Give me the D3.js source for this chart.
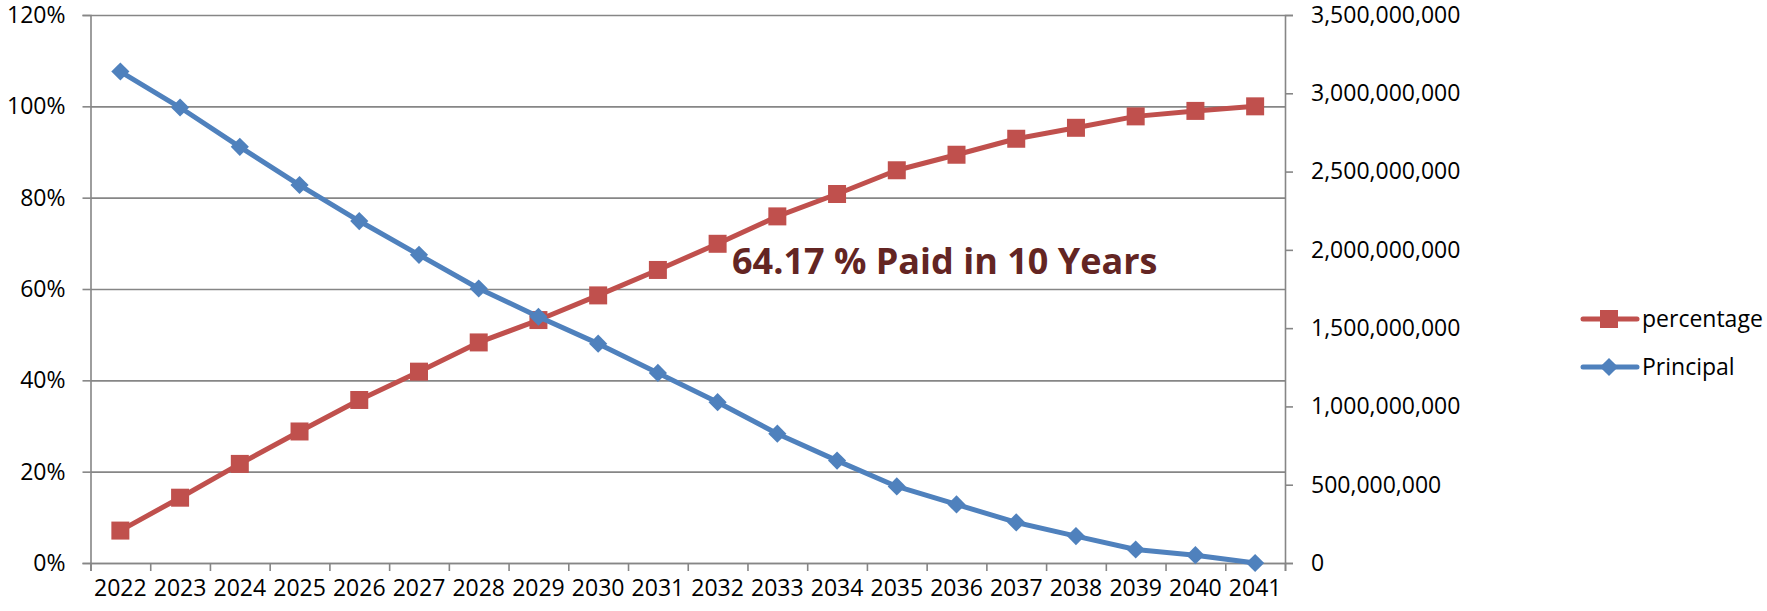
<!DOCTYPE html>
<html>
<head>
<meta charset="utf-8">
<script src="https://cdn.jsdelivr.net/npm/d3@7"></script>
<style>
  body { margin: 0; background: #fff; }
  svg { display: block; font-family: 'Open Sans', sans-serif; }
</style>
</head>
<body>
<svg></svg>
<script>
const years = ['2022', '2023', '2024', '2025', '2026', '2027', '2028', '2029', '2030', '2031',
  '2032', '2033', '2034', '2035', '2036', '2037', '2038', '2039', '2040', '2041'];

// paid share, left axis
const percentage = [0.071, 0.143, 0.217, 0.288, 0.357, 0.419, 0.483, 0.532, 0.586, 0.6417,
  0.699, 0.759, 0.808, 0.86, 0.894, 0.929, 0.953, 0.978, 0.99, 1.0];

// remaining principal, right axis
const principal = [3139e6, 2909e6, 2658e6, 2414e6, 2184e6, 1968e6, 1753e6, 1573e6, 1401e6, 1214e6,
  1027e6, 826e6, 654e6, 489e6, 374e6, 259e6, 172e6, 86e6, 50e6, 0];

const leftTicks = [0, 0.2, 0.4, 0.6, 0.8, 1.0, 1.2];
const rightTicks = [0, 5e8, 1e9, 1.5e9, 2e9, 2.5e9, 3e9, 3.5e9];

const seriesNames = ['percentage', 'Principal'];
const annotation = '64.17 % Paid in 10 Years';

const width = 1767;
const height = 611;
const plotLeft = 90.5;
const plotRight = 1285;
const plotTop = 15;
const plotBottom = 563;

const gridColor = '#868686';
const red = '#C0504D';
const blue = '#4F81BD';

const svg = d3.select('svg').attr('width', width).attr('height', height);

const xScale = d3.scaleBand().domain(years).range([plotLeft, plotRight]);
const xTicks = d3.scaleLinear().domain([0, years.length]).range([plotLeft, plotRight]);
const yLeft = d3.scaleLinear().domain([0, 1.2]).range([plotBottom, plotTop]);
const yRight = d3.scaleLinear().domain([0, 3.5e9]).range([plotBottom, plotTop]);

const cx = (d, i) => xScale(years[i]) + xScale.bandwidth() / 2;

const styleAxis = (g) => {
  g.selectAll('.domain').attr('stroke', gridColor).attr('stroke-width', 1.6);
  g.selectAll('.tick line').attr('stroke', gridColor).attr('stroke-width', 1.6);
  g.selectAll('text').attr('font-size', 23).attr('fill', '#000').attr('font-family', 'Open Sans');
};

// gridlines
svg
  .append('g')
  .attr('transform', 'translate(' + plotLeft + ',0)')
  .call(d3.axisLeft(yLeft).tickValues(leftTicks).tickSize(-(plotRight - plotLeft)).tickFormat(''))
  .call((g) => g.select('.domain').remove())
  .call(styleAxis);

// left axis
svg
  .append('g')
  .attr('transform', 'translate(' + plotLeft + ',0)')
  .call(d3.axisLeft(yLeft).tickValues(leftTicks).tickSize(8).tickPadding(17).tickFormat(d3.format('.0%')))
  .call(styleAxis);

// right axis
svg
  .append('g')
  .attr('transform', 'translate(' + plotRight + ',0)')
  .call(d3.axisRight(yRight).tickValues(rightTicks).tickSize(8).tickPadding(18).tickFormat(d3.format(',')))
  .call(styleAxis);

// x axis tick marks between categories
svg
  .append('g')
  .attr('transform', 'translate(0,' + plotBottom + ')')
  .call(d3.axisBottom(xTicks).ticks(years.length).tickSize(8).tickFormat(''))
  .call(styleAxis);

// x axis labels
svg
  .append('g')
  .attr('transform', 'translate(0,' + plotBottom + ')')
  .call(d3.axisBottom(xScale).tickSize(0).tickPadding(17))
  .call((g) => g.select('.domain').remove())
  .call(styleAxis);

const line = (yScale) =>
  d3
    .line()
    .x(cx)
    .y((d) => yScale(d));

const square = d3.symbol().type(d3.symbolSquare).size(324);
const diamond = d3.symbol().type(d3.symbolSquare).size(165);

// percentage series
svg
  .append('path')
  .datum(percentage)
  .attr('fill', 'none')
  .attr('stroke', red)
  .attr('stroke-width', 5)
  .attr('stroke-linejoin', 'round')
  .attr('d', line(yLeft));

svg
  .selectAll('.sq')
  .data(percentage)
  .enter()
  .append('path')
  .attr('class', 'sq')
  .attr('d', square)
  .attr('fill', red)
  .attr('transform', (d, i) => 'translate(' + cx(d, i) + ',' + yLeft(d) + ')');

// principal series
svg
  .append('path')
  .datum(principal)
  .attr('fill', 'none')
  .attr('stroke', blue)
  .attr('stroke-width', 5)
  .attr('stroke-linejoin', 'round')
  .attr('d', line(yRight));

svg
  .selectAll('.dm')
  .data(principal)
  .enter()
  .append('path')
  .attr('class', 'dm')
  .attr('d', diamond)
  .attr('fill', blue)
  .attr('transform', (d, i) => 'translate(' + cx(d, i) + ',' + yRight(d) + ') rotate(45)');

// annotation
svg
  .append('text')
  .attr('x', 732)
  .attr('y', 274)
  .attr('font-size', 36)
  .attr('font-weight', 'bold')
  .attr('fill', '#632523')
  .text(annotation);

// legend
const legend = svg
  .selectAll('.legend')
  .data(seriesNames)
  .enter()
  .append('g')
  .attr('class', 'legend')
  .attr('transform', (d, i) => 'translate(1583,' + (319 + i * 48) + ')');

legend
  .append('line')
  .attr('x1', 0)
  .attr('x2', 54)
  .attr('stroke', (d, i) => (i === 0 ? red : blue))
  .attr('stroke-width', 5)
  .attr('stroke-linecap', 'round');

legend
  .append('path')
  .attr('d', (d, i) => (i === 0 ? square() : diamond()))
  .attr('fill', (d, i) => (i === 0 ? red : blue))
  .attr('transform', (d, i) => 'translate(26,0)' + (i === 0 ? '' : ' rotate(45)'));

legend
  .append('text')
  .attr('x', 59)
  .attr('dy', '0.35em')
  .attr('font-size', 23)
  .text((d) => d);
</script>
</body>
</html>
